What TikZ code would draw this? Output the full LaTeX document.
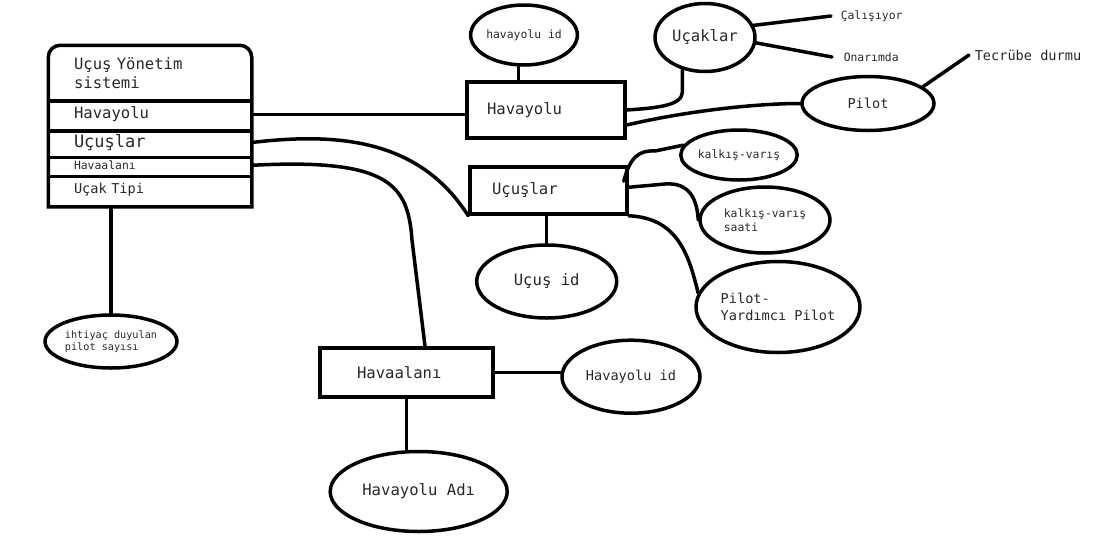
\documentclass[tikz,border=0pt]{standalone}
\usepackage{fontspec}
\setmainfont{DejaVu Sans Mono}
\usepackage{tikz}
\usetikzlibrary{shapes.geometric, calc}
\definecolor{ink}{RGB}{40,40,40}

\begin{document}
\begin{tikzpicture}[
    x=1pt, y=-1pt,
    line width=3.5pt,
    fbig/.style={font=\fontsize{15.6}{19}\selectfont},
    fmed/.style={font=\fontsize{13.6}{16.7}\selectfont},
    fsml/.style={font=\fontsize{11.4}{13.5}\selectfont},
    ftny/.style={font=\fontsize{10.2}{11.5}\selectfont},
    row/.style={rectangle, minimum width=200pt, text width=152pt, inner xsep=24pt, inner ysep=0pt, align=left, text=ink},
    entity/.style={rectangle, draw, align=left, inner ysep=0pt, text=ink},
    attr/.style={ellipse, draw, inner sep=0pt, align=center, text=ink},
    tag/.style={anchor=west, inner ysep=0pt, text=ink},
    link/.style={line cap=round}
]
\useasboundingbox (0,0) rectangle (1097,552);

% Table
\node[row, fbig, minimum height=52pt] (rHead) at (150,73) {Uçuş Yönetim\\sistemi};
\node[row, fbig, minimum height=30pt] (rHavayolu) at (150,114.3) {Havayolu};
\node[row, font=\fontsize{17}{20}\selectfont, minimum height=26.4pt] (rFlights) at (150,142.5) {Uçuşlar};
\node[row, fsml, minimum height=19.3pt] (rAirport) at (150,165.3) {Havaalanı};
\node[row, fmed, minimum height=30pt] (rTip) at (150,190) {Uçak Tipi};
\draw (rTip.south west) [rounded corners=12pt] -- (rHead.north west) -- (rHead.north east) [sharp corners] -- (rTip.south east) -- cycle;
\foreach \r in {rHead, rHavayolu, rFlights, rAirport}
    \draw (\r.south west) -- (\r.south east);

% Entities
\node[entity, fbig, minimum height=56pt, text width=118pt, inner xsep=20pt] (eHavayolu) at (546,110) {Havayolu};
\node[entity, fbig, minimum height=47pt, text width=113pt, inner xsep=22pt] (eFlights) at (548.5,190.5) {Uçuşlar};
\node[entity, fbig, minimum height=49pt, text width=99pt, inner xsep=37pt] (eAirport) at (406.5,372.3) {Havaalanı};

% Attributes
\node[attr, fsml, minimum width=102pt, minimum height=60pt] (aHid) at (524,35) {havayolu id};
\node[attr, fbig, minimum width=100pt, minimum height=68pt] (aPlanes) at (705,37.5) {Uçaklar};
\node[attr, fmed, minimum width=132pt, minimum height=54pt] (aPilot) at (868,103.5) {Pilot};
\node[attr, fsml, minimum width=108pt, minimum height=50pt] (aDep) at (739,155) {kalkış-varış};
\node[attr, fsml, minimum width=130pt, minimum height=66pt, align=left] (aDepT) at (765,220) {kalkış-varış\\saati};
\node[attr, fbig, minimum width=140pt, minimum height=73pt] (aFid) at (546.7,281.5) {Uçuş id};
\node[attr, fmed, minimum width=164pt, minimum height=91pt, align=left] (aCrew) at (778,307) {Pilot-\\Yardımcı Pilot};
\node[attr, fmed, minimum width=138pt, minimum height=73pt] (aAid) at (631,376.7) {Havayolu id};
\node[attr, fbig, minimum width=177pt, minimum height=80pt] (aName) at (418.7,491.5) {Havayolu Adı};
\node[attr, ftny, minimum width=132pt, minimum height=53pt, align=left] (aNeed) at (111,341.5) {ihtiyaç duyulan\\pilot sayısı};

% Plain labels
\node[tag, fsml, inner xsep=8pt] (tWork) at (831,16) {Çalışıyor};
\node[tag, fsml, inner xsep=10pt] (tRepair) at (832,57) {Onarımda};
\node[tag, fmed, inner xsep=4pt] (tExp) at (969,55) {Tecrübe durmu};

% Table links
\draw[link] (rHavayolu.east) -- (rHavayolu.east -| eHavayolu.west);
\draw[link] (rFlights.east) .. controls (340,132) and (420,140) .. (eFlights.south west);
\draw[link] (rAirport.east) .. controls (390,158) and (408,185) .. (412,240) -- ([xshift=18.5pt]eAirport.north);
\draw[link] (rTip.south -| aNeed.north) -- (aNeed.north);

% Havayolu
\draw[link] (aHid.-100) -- (aHid.-100 |- eHavayolu.north);
\draw[link] (aPlanes.-125) -- ++(0,22) .. controls +(0,14) and +(30,-2) .. (eHavayolu.east);
\draw[link] (aPlanes.14) -- (tWork.west);
\draw[link] (aPlanes.-6) -- (tRepair.west);
\draw[link] ([yshift=-15pt]eHavayolu.east) .. controls +(60,-14) and +(-45,0) .. (aPilot.west);
\draw[link] (aPilot.17) -- (tExp.west);

% Ucuslar
\draw[link] (aFid.north |- eFlights.south) -- (aFid.north);
\draw[link] ([shift={(-5pt,-16pt)}]eFlights.north east) .. controls +(6,-23) and +(-17,-1) .. (655,151) -- (aDep.170);
\draw[link] ([yshift=-22pt]eFlights.north east) -- (665,184) .. controls (690,182) and (697,200) .. (aDepT.west);
\draw[link] (eFlights.south east) .. controls (675,218) and (688,250) .. (aCrew.170);

% Havaalani
\draw[link] (eAirport.east) -- (eAirport.east -| aAid.west);
\draw[link] (eAirport.south) -- (eAirport.south |- aName.north);

\end{tikzpicture}
\end{document}
